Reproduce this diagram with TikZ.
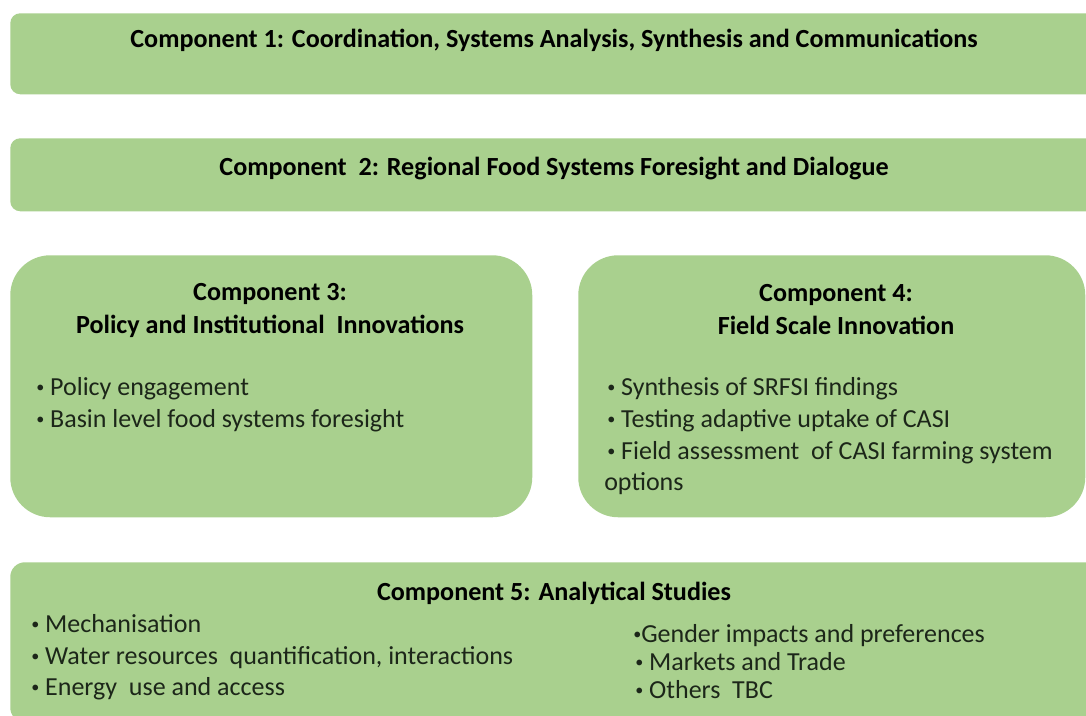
\documentclass[tikz,border=0pt]{standalone}
\usepackage{fontspec}
\setmainfont{Carlito}
\definecolor{boxgreen}{HTML}{A9D08E}
\definecolor{bodytext}{HTML}{1C2619}
% small list bullet, raised to the middle of the lower-case letters
\newcommand{\dotmark}{\raisebox{0.1em}{\scalebox{0.62}{•}}}
\begin{document}
\begin{tikzpicture}[x=0.75pt,y=-0.75pt,
  panel/.style={fill=boxgreen, draw=none, inner sep=0pt, anchor=north west, rounded corners=#1},
  heading/.style={font=\fontsize{19.6}{24.75}\selectfont\bfseries, text=black, align=center, inner sep=0pt},
  item/.style={font=\fontsize{19.5}{24}\selectfont, text=bodytext, anchor=base west, inner sep=0pt}]
\useasboundingbox (0,0) rectangle (1086,715);
\clip (0,0) rectangle (1086,715);
\fill[white] (0,0) rectangle (1086,715);

% panels
\node[panel=7.5pt, minimum width=817.5pt, minimum height=60.75pt] (p1) at (10,13) {};
\node[panel=7.5pt, minimum width=817.5pt, minimum height=54.75pt] (p2) at (10,138) {};
\node[panel=30pt, minimum width=391.5pt, minimum height=196.5pt] (p3) at (10,255) {};
\node[panel=30pt, minimum width=380.25pt, minimum height=196.5pt] (p4) at (578,255) {};
\node[panel=11pt, minimum width=817.5pt, minimum height=120pt] (p5) at (10,562) {};

% headings
\node[heading] (h1) at (554,40) {Component 1: Coordination, Systems Analysis, Synthesis and Communications};
\node[heading] (h2) at (554,169) {Component\ \ 2: Regional Food Systems Foresight and Dialogue};
\node[heading] (h3) at (270,310) {Component 3:\\Policy and Institutional\ \ Innovations};
\node[heading] (h4) at (836,310) {Component 4:\\Field Scale Innovation};
\node[heading] (h5) at (554,593) {Component 5: Analytical Studies};

% component 3 items
\node[item] (a1) at (36,395) {\dotmark\ Policy engagement};
\node[item] (a2) at (36,427) {\dotmark\ Basin level food systems foresight};

% component 4 items
\node[item] (b1) at (607,395) {\dotmark\ Synthesis of SRFSI findings};
\node[item] (b2) at (607,427) {\dotmark\ Testing adaptive uptake of CASI};
\node[item] (b3) at (607,459) {\dotmark\ Field assessment\ \ of CASI farming system};
\node[item] (b4) at (604,490) {options};

% component 5 items
\node[item] (c1) at (31,632) {\dotmark\ Mechanisation};
\node[item] (c2) at (31,664) {\dotmark\ Water resources\ \ quantification, interactions};
\node[item] (c3) at (31,695) {\dotmark\ Energy\ \ use and access};
\node[item] (c4) at (633,642) {\dotmark Gender impacts and preferences};
\node[item] (c5) at (635,670) {\dotmark\ Markets and Trade};
\node[item] (c6) at (635,698) {\dotmark\ Others\ \ TBC};
\end{tikzpicture}
\end{document}
